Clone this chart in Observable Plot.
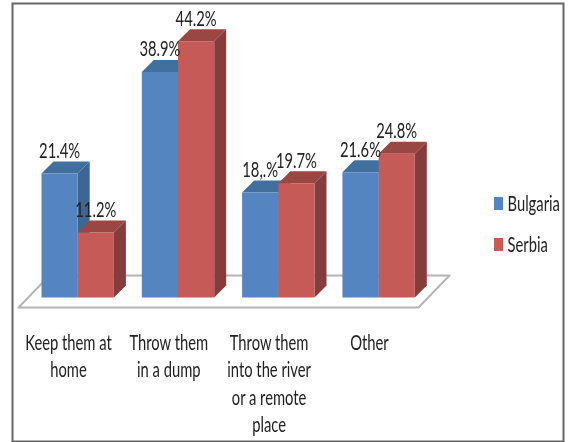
<!DOCTYPE html>
<html><head><meta charset="utf-8">
<script src="https://cdn.jsdelivr.net/npm/d3@7"></script>
<script src="https://cdn.jsdelivr.net/npm/@observablehq/plot@0.6"></script>
<style>html,body{margin:0;padding:0;background:#fff}svg{display:block;filter:blur(.5px)}</style>
</head><body><div id="c"></div>
<script>
const categories = ["Keep them at\nhome","Throw them\nin a dump","Throw them\ninto the river\nor a remote\nplace","Other"];
const bulgaria = [21.4,38.9,18.1,21.6];
const serbia = [11.2,44.2,19.7,24.8];
const bulgariaLabels = ["21.4%","38.9%","18,.%","21.6%"];
const serbiaLabels = ["11.2%","44.2%","19.7%","24.8%"];
const seriesNames = ["Bulgaria","Serbia"];
const fronts = ["#5485c1","#c55a57"], tops = ["#41709f","#9a4744"], sides = ["#3d6690","#853c3d"];

// layout: one x unit = one category, one y unit = one percentage point
const W=570,H=442,pxX=100.3,pxY=5.8;
const X=p=>(p-41)/pxX, Y=p=>(297-p)/pxY;
const barW=36.2/pxX, dx=12/pxX, dy=12/pxY;
const font='Lato,"Liberation Sans",sans-serif';

const faces=[];let id=0;
function poly(points,fill){id++;for(const [x,y] of points)faces.push({id,x,y,fill});}
categories.forEach((_,i)=>[bulgaria,serbia].forEach((vals,s)=>{
  const v=vals[i],x0=i+s*barW,x1=x0+barW;
  poly([[x1,0],[x1+dx,dy],[x1+dx,v+dy],[x1,v]],sides[s]);
  poly([[x0,v],[x0+dx,v+dy],[x1+dx,v+dy],[x1,v]],tops[s]);
  poly([[x0,0],[x1,0],[x1,v],[x0,v]],fronts[s]);
}));

const valueLabels=categories.flatMap((_,i)=>[
 {x:i+barW/2,y:bulgaria[i],t:bulgariaLabels[i]},
 {x:i+barW*1.5,y:serbia[i],t:serbiaLabels[i]}]);
const catLabels=categories.map((t,i)=>({x:i+X(68)-X(41),t}));
const floor=[[18,307],[418,307],[449,275],[49,275],[18,307]].map(([a,b])=>({x:X(a),y:Y(b)}));
const legend=seriesNames.map((t,i)=>({t,c:fronts[i],x1:X(494),x2:X(503),y1:Y(197+41*i),y2:Y(210+41*i),tx:X(507),ty:Y(203.5+41*i)}));

const chart=Plot.plot({
 width:W,height:H,margin:0,
 x:{domain:[X(0),X(W)],range:[0,W],axis:null},
 y:{domain:[Y(H),Y(0)],range:[H,0],axis:null},
 marks:[
  Plot.line(floor,{x:"x",y:"y",stroke:"#b4b4b4",strokeWidth:2,curve:"linear"}),
  ...[...new Set(faces.map(f=>f.id))].map(k=>{
    const pts=faces.filter(f=>f.id===k);
    return Plot.line([...pts,pts[0]],{x:"x",y:"y",fill:pts[0].fill,stroke:null});
  }),
  Plot.text(valueLabels,{x:"x",y:"y",text:"t",dy:-22,fontSize:20.5,fontFamily:font,fill:"#222"}),
  Plot.text(catLabels,{x:"x",y:Y(330),text:"t",lineAnchor:"top",lineHeight:1.34,fontSize:20.5,fontFamily:font,fill:"#222"}),
  Plot.rect(legend,{x1:"x1",x2:"x2",y1:"y1",y2:"y2",fill:"c"}),
  Plot.text(legend,{x:"tx",y:"ty",text:"t",textAnchor:"start",fontSize:20.5,fontFamily:font,fill:"#222"}),
  Plot.frame({stroke:"#666",strokeWidth:2,insetLeft:12,insetTop:3,insetRight:7,insetBottom:1})
 ]
});
document.getElementById("c").append(chart);
// the reference's type is horizontally squeezed
const squeeze=0.72;
chart.querySelectorAll("text").forEach(t=>{
  const spans=t.querySelectorAll("tspan");
  (spans.length?[...spans]:[t]).forEach(el=>{
    const len=el.getComputedTextLength();
    el.setAttribute("lengthAdjust","spacingAndGlyphs");
    el.setAttribute("textLength",(len*squeeze).toFixed(1));
  });
});
</script></body></html>
